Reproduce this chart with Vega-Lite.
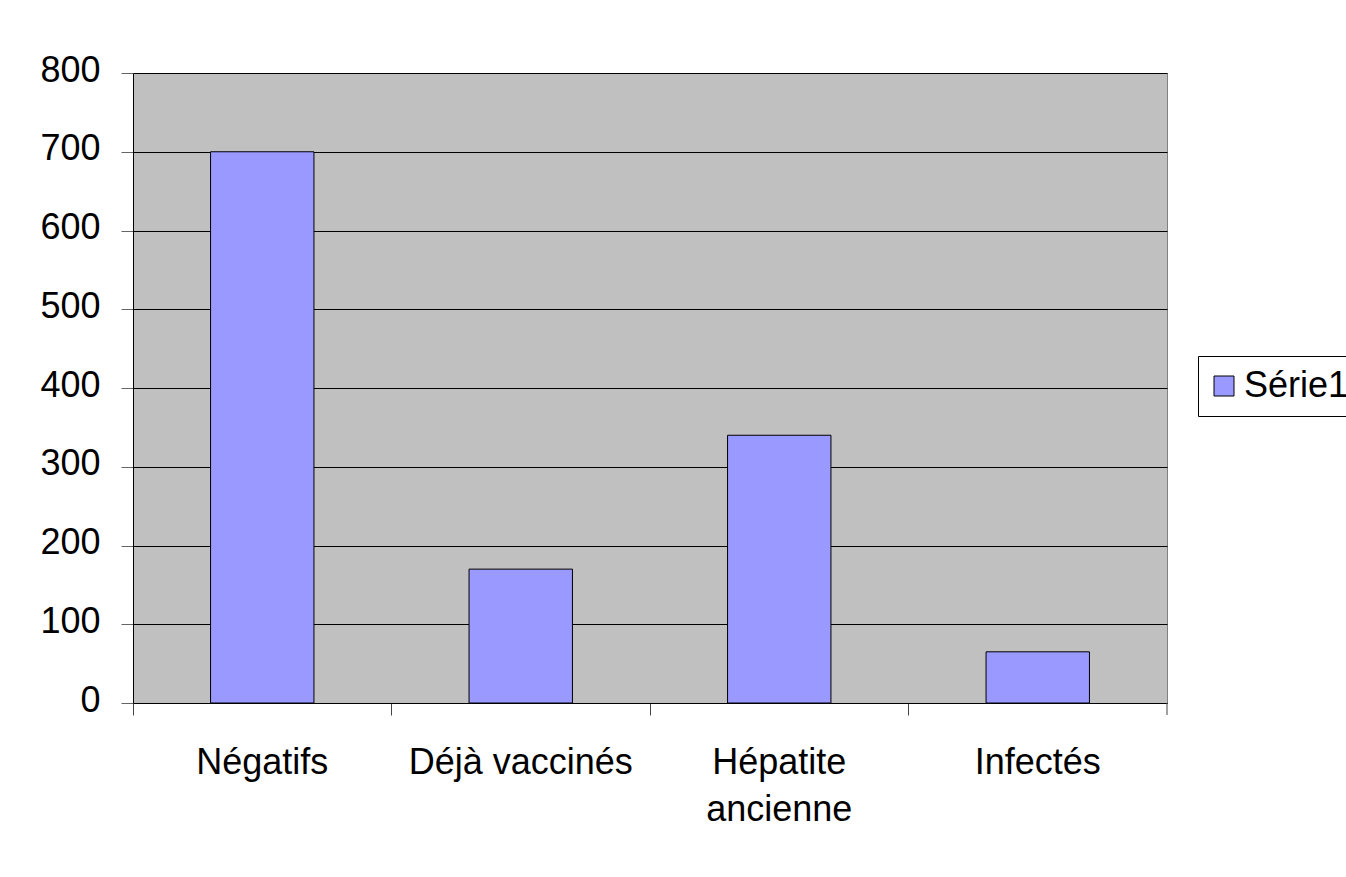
{
  "$schema": "https://vega.github.io/schema/vega-lite/v6.json",
  "autosize": {"type": "none"},
  "padding": {"left": 133, "top": 73, "right": 179, "bottom": 174},
  "width": 1034,
  "height": 630,
  "background": "#ffffff",
  "config": {
    "font": "Liberation Sans",
    "view": {"fill": "#c0c0c0", "stroke": "#808080", "strokeWidth": 1}
  },
  "data": {
    "values": [
      {"categorie": "Négatifs", "valeur": 700},
      {"categorie": "Déjà vaccinés", "valeur": 170},
      {"categorie": "Hépatite ancienne", "valeur": 340},
      {"categorie": "Infectés", "valeur": 65}
    ]
  },
  "layer": [
    {
      "mark": {"type": "bar", "stroke": "#000000", "strokeWidth": 1, "width": {"band": 0.4}},
      "encoding": {
        "x": {
          "field": "categorie",
          "type": "nominal",
          "sort": ["Négatifs", "Déjà vaccinés", "Hépatite ancienne", "Infectés"],
          "scale": {"paddingInner": 0, "paddingOuter": 0},
          "axis": {
            "title": null,
            "bandPosition": 0,
            "labelAngle": 0,
            "labelFontSize": 36,
            "labelColor": "#000000",
            "labelLimit": 0,
            "labelPadding": 30,
            "labelBaseline": "top",
            "labelLineHeight": 47,
            "labelExpr": "datum.label == 'Hépatite ancienne' ? ['Hépatite', 'ancienne'] : datum.label",
            "tickSize": 12,
            "tickColor": "#444444",
            "domainColor": "#000000",
            "grid": false
          }
        },
        "y": {
          "field": "valeur",
          "type": "quantitative",
          "scale": {"domain": [0, 800], "nice": false},
          "axis": {
            "title": null,
            "values": [0, 100, 200, 300, 400, 500, 600, 700, 800],
            "labelFontSize": 36,
            "labelColor": "#000000",
            "labelPadding": 21,
            "labelOffset": -3,
            "tickSize": 12,
            "tickColor": "#666666",
            "domainColor": "#000000",
            "gridColor": "#000000",
            "gridOpacity": 1,
            "gridWidth": 1
          }
        },
        "color": {
          "datum": "Série1",
          "type": "nominal",
          "scale": {"range": ["#9999ff"]},
          "legend": {
            "title": null,
            "orient": "none",
            "legendX": 1065,
            "legendY": 283,
            "strokeColor": "#000000",
            "fillColor": "#ffffff",
            "padding": 12,
            "labelFontSize": 36,
            "labelColor": "#000000",
            "labelOffset": 2,
            "symbolOffset": -4,
            "symbolType": "square",
            "symbolSize": 400,
            "symbolStrokeColor": "#000000",
            "symbolStrokeWidth": 1
          }
        }
      }
    },
    {
      "transform": [{"filter": "datum.categorie == 'Infectés'"}],
      "mark": {"type": "rule", "color": "#444444", "y2Offset": 12},
      "encoding": {
        "x": {
          "field": "categorie",
          "type": "nominal",
          "sort": ["Négatifs", "Déjà vaccinés", "Hépatite ancienne", "Infectés"],
          "bandPosition": 1
        },
        "y": {"datum": 0},
        "y2": {"datum": 0}
      }
    }
  ]
}
